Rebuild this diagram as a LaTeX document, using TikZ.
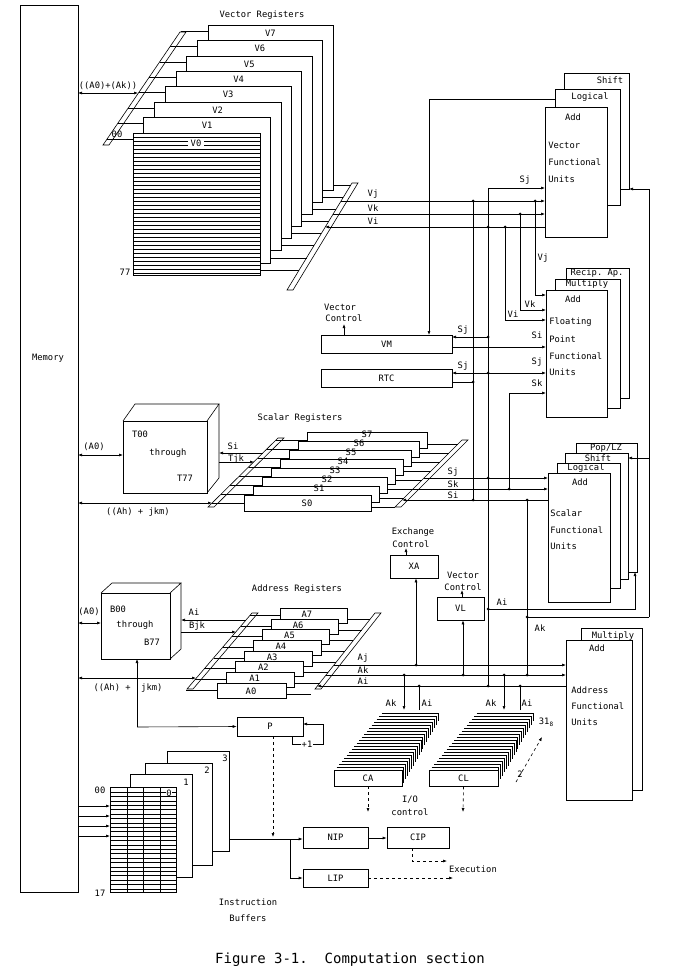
\documentclass[tikz,border=0pt]{standalone}
\usepackage{fontspec}
\setmonofont{DejaVu Sans Mono}
\usetikzlibrary{arrows.meta}
\newcommand{\lbl}{\fontsize{8.8}{10}\selectfont\ttfamily}
\tikzset{arr/.style={-{Latex[length=4pt,width=3pt]}},
  barr/.style={{Latex[length=4pt,width=3pt]}-{Latex[length=4pt,width=3pt]}},
  dasharr/.style={dashed,-{Latex[length=4pt,width=3pt]}},
  box/.style={draw,fill=white,minimum width=#1},
  dot/.style={circle,fill,inner sep=0pt,minimum size=3pt},
  unit/.style={draw,fill=white}}
\begin{document}
\begin{tikzpicture}[x=1pt,y=-1pt,line width=0.6pt,every node/.style={font=\lbl,inner sep=0pt}]
\useasboundingbox (0,0) rectangle (700,973);
% memory
\draw (20,5) rectangle (78,892);
\node at (48,358) {Memory};

% vector registers
\node at (262,15) {Vector Registers};
\filldraw[fill=white] (103,145)--(180,32)--(186,32)--(109,145)--cycle;
\filldraw[fill=white] (287,290)--(352,183)--(358,183)--(293,290)--cycle;
\foreach \n in {7,...,1} {
  \pgfmathsetmacro\l{133+10.7*\n}\pgfmathsetmacro\t{133-15.4*\n}
  \pgfmathsetmacro\r{260+10.4*\n}\pgfmathsetmacro\b{275-12.1*\n}
  \draw ({103+(145-\t-6)*77/113},\t+6) -- (\l,\t+6);
  \draw (\r,\b-5) -- ({287+(290-\b+5)*65/107},\b-5);
  \draw[fill=white] (\l,\t) rectangle (\r,\b);
  \node at ({(\l+\r)/2},\t+8) {V\n};
}
\draw ({103+6*77/113},139) -- (133,139);
\draw (260,270) -- ({287+20*65/107},270);
\draw[fill=white] (133,133) rectangle (260,275);
\foreach \y in {137,141,...,273} \draw[line width=0.5pt] (133,\y) -- (260,\y);
\node[fill=white,inner xsep=3pt,inner ysep=1pt] at (196,143) {V0};
\node at (117,134) {00};
\node at (125,272) {77};
\draw[barr] (78,93) -- (138,93);
\node at (108,86) {((A0)+(Ak))};

% vector functional units
\draw[unit] (564,73) rectangle (629,189);
\draw[unit] (555,89) rectangle (620,205);
\draw[unit] (545,107) rectangle (607,237);
\node at (610,80) {Shift};
\node at (590,97) {Logical};
\node at (573,117) {Add};
\node[anchor=west] at (548,145) {Vector};
\node[anchor=west] at (548,162) {Functional};
\node[anchor=west] at (548,179) {Units};

% floating point units
\draw[unit] (566,268) rectangle (629,398);
\draw[unit] (555,279) rectangle (620,408);
\draw[unit] (546,290) rectangle (607,417);
\node at (597,273) {Recip. Ap.};
\node at (587,284) {Multiply};
\node at (573,299) {Add};
\node[anchor=west] at (549,322) {Floating};
\node[anchor=west] at (549,339) {Point};
\node[anchor=west] at (549,356) {Functional};
\node[anchor=west] at (549,372) {Units};

% scalar functional units
\draw[unit] (576,443) rectangle (637,572);
\draw[unit] (565,453) rectangle (628,579);
\draw[unit] (557,463) rectangle (620,588);
\draw[unit] (548,473) rectangle (610,602);
\node at (606,448) {Pop/LZ};
\node at (598,458) {Shift};
\node at (586,468) {Logical};
\node at (580,482) {Add};
\node[anchor=west] at (550,513) {Scalar};
\node[anchor=west] at (550,530) {Functional};
\node[anchor=west] at (550,546) {Units};

% address functional units
\draw[unit] (581,628) rectangle (642,790);
\draw[unit] (566,640) rectangle (632,800);
\node at (613,636) {Multiply};
\node at (597,648) {Add};
\node[anchor=west] at (571,690) {Address};
\node[anchor=west] at (571,706) {Functional};
\node[anchor=west] at (571,722) {Units};

% vector paths
\draw[arr] (341,201) -- (545,201);
\draw[arr] (333,214) -- (545,214);
\draw[arr] (545,227) -- (325,227);
\node at (373,194) {Vj};
\node at (373,208) {Vk};
\node at (373,221) {Vi};
\draw[arr] (488,188) -- (545,188);
\node at (525,180) {Sj};
\draw (488,188) -- (488,686);
\draw (473,201) -- (473,500);
\draw[arr] (505,227) -- (505,320) -- (546,320);
\draw[arr] (520,214) -- (520,310) -- (546,310);
\draw[arr] (535,201) -- (535,295) -- (546,295);
\node at (513,314) {Vi};
\node at (530,304) {Vk};
\node at (543,258) {Vj};
\draw[arr] (555,99) -- (429,99) -- (429,335);
\draw[arr] (649,617) -- (649,189) -- (629,189);
\draw[arr] (649,458) -- (628,458);
\draw (527,617) -- (649,617);

% VM and RTC
\node[box=131pt,minimum height=18pt] (VM) at (386.5,344) {VM};
\node[box=131pt,minimum height=18pt] (RTC) at (386.5,378) {RTC};
\node at (340,307) {Vector};
\node at (344,318) {Control};
\draw[arr] (VM.north -| 344,0) -- (344,324);
\draw[arr] (488,337) -- (452,337);
\node at (463,330) {Sj};
\draw[arr] (452,347) -- (546,347);
\node at (537,335) {Si};
\draw[barr] (452,373) -- (546,373);
\node at (463,366) {Sj};
\node at (537,362) {Sj};
\draw (452,382) -- (473,382);
\draw[arr] (509,489) -- (509,393) -- (546,393);
\node at (537,383) {Sk};

% scalar registers
\node at (300,418) {Scalar Registers};
\filldraw[fill=white] (208,507)--(278,438)--(284,438)--(214,507)--cycle;
\filldraw[fill=white] (395,507)--(462,440)--(468,440)--(401,507)--cycle;
\foreach \n in {7,...,0} {
  \pgfmathsetmacro\l{244+9*\n}\pgfmathsetmacro\t{495-9*\n}
  \pgfmathsetmacro\r{371+8*\n}
  \draw ({208+(507-\t-8)*70/69},\t+8) -- (\l,\t+8);
  \draw (\r,\t+12) -- ({395+(507-\t-12)},\t+12);
  \draw[fill=white] (\l,\t) rectangle (\r,\t+16);
}
\foreach \n in {1,...,7} \node at ({371+8*\n-60},{495-9*\n+2}) {S\n};
\node at (307,503) {S0};
\draw[arr] (424,478) -- (548,478);
\draw[arr] (413,489) -- (548,489);
\draw[arr] (548,500) -- (402,500);
\node at (453,472) {Sj};
\node at (453,484) {Sk};
\node at (453,495) {Si};
\draw (527,500) -- (527,675);
\draw[arr] (488,609) -- (635,609) -- (635,572);
\node at (502,602) {Ai};
\node at (540,628) {Ak};

% T registers
\draw (123,421) -- (135,404) -- (219,404) -- (207,421);
\draw (207,493) -- (219,478) -- (219,404);
\draw (123,421) rectangle (207,493);
\node at (140,434) {T00};
\node at (168,453) {through};
\node at (185,478) {T77};
\draw[barr] (78,455) -- (123,455);
\node at (94,447) {(A0)};
\draw[arr] (263,453) -- (219,453);
\draw[arr] (219,462) -- (254,462);
\node at (233,446) {Si};
\node at (236,459) {Tjk};
\draw[barr] (78,503) -- (212,503);
\node at (138,512) {((Ah) + jkm)};

% address registers
\node at (297,589) {Address Registers};
\filldraw[fill=white] (187,689)--(252,613)--(258,613)--(193,689)--cycle;
\filldraw[fill=white] (315,689)--(375,613)--(381,613)--(321,689)--cycle;
\foreach \n in {7,...,0} {
  \pgfmathsetmacro\l{217+9.1*\n}\pgfmathsetmacro\t{683-10.7*\n}
  \pgfmathsetmacro\r{286+8.7*\n}
  \draw ({187+(689-\t-7)*65/76},\t+7) -- (\l,\t+7);
  \draw (\r,\t+11) -- ({315+(689-\t-11)*60/76},\t+11);
  \draw[fill=white] (\l,\t) rectangle (\r,\t+15);
}
\foreach \n in {1,...,7} \node at ({286+8.7*\n-40},{683-10.7*\n+6}) {A\n};
\node at (251,691) {A0};

% B registers
\draw (101,593) -- (112,583) -- (181,583) -- (170,593);
\draw (170,659) -- (181,649) -- (181,583);
\draw (101,593) rectangle (170,659);
\node at (118,609) {B00};
\node at (135,625) {through};
\node at (152,642) {B77};
\draw[barr] (78,623) -- (101,623);
\node at (89,612) {(A0)};
\draw[arr] (246,620) -- (181,620);
\draw[arr] (181,632) -- (236,632);
\node at (194,612) {Ai};
\node at (197,626) {Bjk};
\draw[barr] (78,678) -- (196,678);
\node at (128,688) {((Ah) +\ \ jkm)};

% address paths
\draw[arr] (334,665) -- (566,665);
\draw[arr] (326,675) -- (566,675);
\draw[arr] (566,686) -- (317,686);
\node at (363,658) {Aj};
\node at (363,670) {Ak};
\node at (363,681) {Ai};
\node[box=48pt,minimum height=23pt] (XA) at (414,566.5) {XA};
\node[box=47pt,minimum height=23pt] (VL) at (460.5,608.5) {VL};
\draw[arr] (416,665) -- (XA.south -| 416,0);
\draw[arr] (XA.north -| 406,0) -- (406,548);
\node at (413,532) {Exchange};
\node at (411,544) {Control};
\draw[arr] (463,675) -- (VL.south -| 463,0);
\draw[arr] (VL.north -| 462,0) -- (462,590);
\node at (463,575) {Vector};
\node at (463,587) {Control};

% P register
\node[box=66pt,minimum height=19pt] (P) at (270,726.5) {P};
\draw[arr] (137,727) -- (137,659);
\draw[arr] (137,727) -- (P.west);
\draw[arr] (292,736) -- (292,744) -- (323,744) -- (323,724) -- (303,724);
\node[fill=white,inner xsep=1pt] at (307,744) {+1};
\draw[dasharr] (P.south -| 273,0) -- (273,837);

% CA and CL
\foreach \x in {334,429} {
  \foreach \i in {19,...,0}
    \draw[line width=1pt] ({\x+\i*2.5},{770-\i*3}) -- ({\x+68+\i*1.9},{770-\i*3}) -- ({\x+68+\i*1.9},{786-\i*3.4});
}
\node[box=68pt,minimum height=16pt] (CA) at (368,778) {CA};
\node[box=69pt,minimum height=16pt] (CL) at (463.5,778) {CL};
\draw[arr] (404,675) -- (404,710);
\draw (419,710) -- (419,686);
\draw[arr] (504,675) -- (504,710);
\draw (520,710) -- (520,686);
\node at (391,703) {Ak};
\node at (427,703) {Ai};
\node at (491,703) {Ak};
\node at (527,703) {Ai};
\draw[dasharr] (CA.south) -- (368,812);
\draw[dasharr] (CL.south) -- (463,812);
\node at (410,800) {I/O};
\node at (410,812) {control};
\node at (546,722) {31\raisebox{-2pt}{\fontsize{6}{6}\selectfont 8}};
\node at (520,774) {2};
\draw[dasharr] (516,782) -- (542,737);

% dots
\foreach \p in {(488,227),(488,337),(488,373),(488,478),(488,686),(473,201),(473,382),(473,500),
  (505,227),(520,214),(535,201),(509,489),(527,500),(527,617),(527,675),(488,609),
  (416,665),(463,675),(404,675),(419,686),(504,675),(520,686)}
  \node[dot] at \p {};

% instruction buffers
\draw[fill=white] (167,751) rectangle (229,851);
\draw[fill=white] (145,763) rectangle (212,865);
\draw[fill=white] (130,774) rectangle (192,877);
\node at (225,758) {3};
\node at (207,770) {2};
\node at (186,782) {1};
\draw[fill=white] (110,787) rectangle (176,892);
\foreach \y in {792,796.4,...,889} \draw[line width=0.5pt] (110,\y) -- (176,\y);
\foreach \x in {127,143,160} \draw (\x,787) -- (\x,892);
\node[fill=white] at (169,793) {0};
\node at (100,790) {00};
\node at (100,893) {17};
\foreach \y in {806,816,826,836} \draw[arr] (78,\y) -- (110,\y);
\node at (248,902) {Instruction};
\node at (248,918) {Buffers};

% instruction issue
\node[box=65pt,minimum height=21pt] (NIP) at (335.5,837.5) {NIP};
\node[box=62pt,minimum height=21pt] (CIP) at (418,837.5) {CIP};
\node[box=65pt,minimum height=18pt] (LIP) at (335.5,878) {LIP};
\draw (229,839) -- (290,839);
\draw[arr] (290,839) -- (NIP.west |- 0,839);
\draw[arr] (290,839) -- (290,878) -- (LIP.west);
\draw[arr] (NIP.east |- 0,838) -- (CIP.west |- 0,838);
\draw[dasharr] (412,848) -- (412,861) -- (447,861);
\draw[dasharr] (LIP.east) -- (453,878);
\node at (473,869) {Execution};

\node[font=\fontsize{14}{16}\selectfont\ttfamily] at (350,960) {Figure 3-1.\ \ Computation section};
\end{tikzpicture}
\end{document}
